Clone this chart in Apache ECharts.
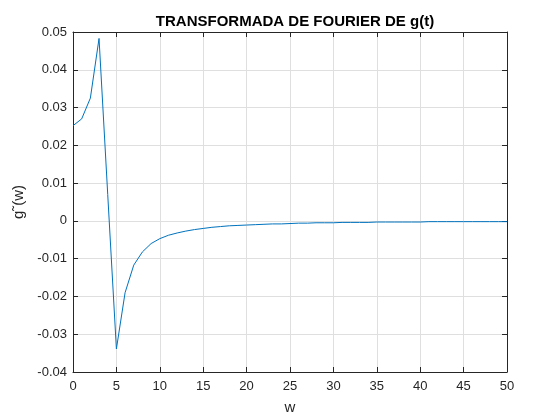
<!DOCTYPE html>
<html>
<head>
<meta charset="utf-8">
<script src="https://cdn.jsdelivr.net/npm/echarts@6/dist/echarts.min.js"></script>
<style>
  html, body { margin: 0; padding: 0; background: #fff; }
  #chart { width: 560px; height: 420px; }
</style>
</head>
<body>
<div id="chart"></div>
<script>
// w samples (0..50 step 1) and the values
const wValues = [];
for (let i = 0; i <= 50; i++) wValues.push(i);

const gValues = [
  0.0252, 0.0270, 0.0325, 0.0483, 0.0070, -0.0339, -0.0190, -0.0117, -0.0082, -0.0060,
  -0.0047, -0.0038, -0.0032, -0.0027, -0.0023, -0.0020, -0.0017, -0.0015, -0.0013, -0.0012,
  -0.0011, -0.0010, -0.0009, -0.0008, -0.0008, -0.0007, -0.0006, -0.0006, -0.0005, -0.0005,
  -0.0005, -0.0004, -0.0004, -0.0004, -0.0004, -0.0003, -0.0003, -0.0003, -0.0003, -0.0003,
  -0.0003, -0.0002, -0.0002, -0.0002, -0.0002, -0.0002, -0.0002, -0.0002, -0.0002, -0.0002,
  -0.0002
];

const xTicks = [0, 5, 10, 15, 20, 25, 30, 35, 40, 45, 50];
const yTicks = [-0.04, -0.03, -0.02, -0.01, 0, 0.01, 0.02, 0.03, 0.04, 0.05];

const font = 'Liberation Sans, Arial, Helvetica, sans-serif';
const axisColor = '#262626';
const gridColor = '#dfdfdf';

let chart = echarts.init(document.getElementById('chart'), null, { renderer: 'canvas' });

const baseX = {
  type: 'value',
  min: xTicks[0],
  max: xTicks[xTicks.length - 1],
  interval: 5,
  axisLine: { show: true, onZero: false, lineStyle: { color: axisColor, width: 1 } },
  axisTick: { show: true, inside: true, length: 5, lineStyle: { color: axisColor } },
  splitLine: { show: false }
};

const baseY = {
  type: 'value',
  min: yTicks[0],
  max: yTicks[yTicks.length - 1],
  interval: 0.01,
  axisLine: { show: true, onZero: false, lineStyle: { color: axisColor, width: 1 } },
  axisTick: { show: true, inside: true, length: 5, lineStyle: { color: axisColor } },
  splitLine: { show: false }
};

let option = {
  animation: false,
  backgroundColor: '#ffffff',
  title: {
    text: 'TRANSFORMADA DE FOURIER DE g(t)',
    left: 290,
    top: 9,
    textAlign: 'center',
    textStyle: { fontFamily: font, fontSize: 15, fontWeight: 'bold', color: '#000' }
  },
  grid: { left: 73, right: 53, top: 32, bottom: 47 },
  xAxis: [
    Object.assign({}, baseX, {
      position: 'bottom',
      name: 'w',
      nameLocation: 'middle',
      nameGap: 28,
      nameTextStyle: { fontFamily: font, fontSize: 15, color: axisColor },
      axisLabel: { show: true, margin: 8, fontFamily: font, fontSize: 13, color: axisColor },
      splitLine: { show: true, lineStyle: { color: gridColor, width: 1 } }
    }),
    Object.assign({}, baseX, {
      position: 'top',
      axisLabel: { show: false }
    })
  ],
  yAxis: [
    Object.assign({}, baseY, {
      position: 'left',
      name: 'g\u02DC(w)',
      nameLocation: 'middle',
      nameRotate: 90,
      nameGap: 38,
      nameTextStyle: { fontFamily: font, fontSize: 15, color: axisColor },
      axisLabel: {
        show: true, margin: 6, fontFamily: font, fontSize: 13, color: axisColor,
        formatter: (v) => String(Number(v.toFixed(2)))
      },
      splitLine: { show: true, lineStyle: { color: gridColor, width: 1 } }
    }),
    Object.assign({}, baseY, {
      position: 'right',
      axisLabel: { show: false }
    })
  ],
  series: [{
    type: 'line',
    xAxisIndex: 0,
    yAxisIndex: 0,
    showSymbol: false,
    symbol: 'none',
    lineStyle: { color: '#0072BD', width: 1 },
    data: wValues.map((w, i) => [w, gValues[i]])
  }]
};

chart.setOption(option);
</script>
</body>
</html>
